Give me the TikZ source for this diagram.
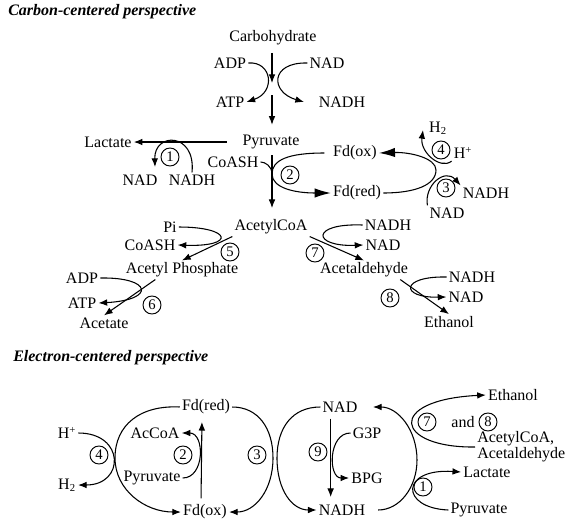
\documentclass[tikz,border=0pt]{standalone}
\usepackage{fontspec}
\setmainfont{Liberation Serif}
\usetikzlibrary{arrows.meta}

\begin{document}
\begin{tikzpicture}[x=0.75pt,y=-0.75pt,
    lbl/.style={inner sep=1.5pt,font=\fontsize{12}{13}\selectfont},
    ttl/.style={anchor=west,inner sep=0pt,font=\fontsize{12}{13}\selectfont\bfseries\itshape},
    num/.style={circle,draw,line width=0.7pt,minimum size=13.5pt,inner sep=0pt,font=\fontsize{11}{11}\selectfont},
    arr/.style={line width=0.8pt,-{Latex[length=6.5pt,width=5pt]}},
    bigarr/.style={line width=0.8pt,-{Latex[length=12pt,width=7pt]}},
    ln/.style={line width=0.8pt}]
    \useasboundingbox (0,0) rectangle (569,526);

    % carbon-centered perspective
    \node[ttl] (ttl1) at (8,12) {Carbon-centered perspective};
    \node[lbl] (carb) at (273,38) {Carbohydrate};
    \node[lbl] (adp1) at (230,63) {ADP};
    \node[lbl] (atp1) at (230,102) {ATP};
    \node[lbl] (nad0) at (327,63) {NAD};
    \node[lbl] (nadh0) at (342,102) {NADH};
    \node[lbl] (pyr1) at (271,142) {Pyruvate};
    \node[lbl] (lac1) at (108,142) {Lactate};
    \node[lbl] (nad1) at (140,180) {NAD};
    \node[lbl] (nadh1) at (192,180) {NADH};
    \node[num] (n1) at (170,157) {1};
    \node[lbl] (coash1) at (233,162) {CoASH};
    \node[num] (n2) at (290,175) {2};
    \node[lbl] (fdox1) at (355,153) {Fd(ox)};
    \node[lbl] (fdred1) at (357,193) {Fd(red)};
    \node[lbl] (h2a) at (438,128) {H\textsubscript{2}};
    \node[lbl] (hpa) at (463,153) {H\textsuperscript{+}};
    \node[num] (n4) at (441,150) {4};
    \node[num] (n3) at (446,188) {3};
    \node[lbl] (nadh3) at (486,193) {NADH};
    \node[lbl] (nad3) at (447,213) {NAD};

    \node[lbl] (acoa1) at (271,227) {AcetylCoA};
    \node[lbl] (pi) at (170,227) {Pi};
    \node[lbl] (coash5) at (150,245) {CoASH};
    \node[num] (n5) at (230,252) {5};
    \node[lbl] (acp) at (182,270) {Acetyl Phosphate};
    \node[lbl] (adp6) at (82,278) {ADP};
    \node[lbl] (atp6) at (82,303) {ATP};
    \node[num] (n6) at (152,305) {6};
    \node[lbl] (acet) at (104,323) {Acetate};
    \node[lbl] (nadh7) at (388,225) {NADH};
    \node[lbl] (nad7) at (383,245) {NAD};
    \node[num] (n7) at (315,253) {7};
    \node[lbl] (acald1) at (364,270) {Acetaldehyde};
    \node[lbl] (nadh8) at (472,277) {NADH};
    \node[lbl] (nad8) at (466,297) {NAD};
    \node[num] (n8) at (390,298) {8};
    \node[lbl] (eth1) at (449,322) {Ethanol};

    % glycolysis
    \coordinate (k1) at (272,83);
    \coordinate (k2) at (272,95);
    \draw[arr,shorten <=4pt] (carb.south -| k1) -- (k1);
    \draw[arr,shorten >=6pt] (k2) -- (k2 |- pyr1.north);
    \draw[arr] (adp1.east) .. controls (272,61) and (276,92) .. (atp1.east);
    \coordinate (t0) at (304,102);
    \draw[arr] (nad0.west) .. controls (270,62) and (270,92) .. (t0);

    % lactate branch
    \draw[arr,shorten <=10pt] (pyr1.west) -- (lac1.east);
    \coordinate (t1) at (155,167);
    \draw[arr] (nadh1.north) .. controls (196,132) and (154,132) .. (t1);

    % pyruvate to acetylCoA, ferredoxin
    \draw[arr,shorten <=3pt,shorten >=7pt] (pyr1.south -| k1) -- (acoa1.north -| k1);
    \coordinate (v2) at (272,174);
    \draw[bigarr,shorten <=5pt] (fdox1.west) .. controls (288,153) and (272,160) .. (v2)
        .. controls (272,188) and (295,193) .. (fdred1.west);
    \draw[ln] (coash1.east) .. controls (265,162) and (272,166) .. (v2);
    \coordinate (v3) at (436,170);
    \draw[bigarr] (fdred1.east) .. controls (415,193) and (436,185) .. (v3)
        .. controls (436,158) and (410,152) .. (fdox1.east);
    \coordinate (t4) at (423,130);
    \draw[arr] (hpa.south west) .. controls (440,170) and (420,152) .. (t4);
    \draw[arr] (nad3.north west) .. controls (424,185) and (445,168) .. (nadh3.north west);

    % acetate and ethanol branches
    \draw[arr] (acoa1.south west) -- (acp.north);
    \draw[arr] (pi.east) .. controls (232,227) and (236,247) .. (coash5.east);
    \draw[arr] ([xshift=-20pt]acp.south) -- (acet.north);
    \draw[arr] (adp6.east) .. controls (152,277) and (156,300) .. (atp6.east);
    \draw[arr] (acoa1.south east) -- (acald1.north);
    \draw[arr] (nadh7.west) .. controls (310,223) and (312,247) .. (nad7.west);
    \draw[arr] ([xshift=-7.5pt]acald1.south east) -- (eth1.north);
    \draw[arr] (nadh8.west) .. controls (400,276) and (400,298) .. (nad8.west);

    % electron-centered perspective
    \node[ttl] (ttl2) at (13,358) {Electron-centered perspective};
    \node[lbl] (fdred2) at (206,407) {Fd(red)};
    \node[lbl] (fdox2) at (205,512) {Fd(ox)};
    \node[lbl] (hp2) at (67,433) {H\textsuperscript{+}};
    \node[lbl] (h2b) at (67,485) {H\textsubscript{2}};
    \node[lbl] (accoa) at (155,433) {AcCoA};
    \node[lbl] (pyr2) at (152,478) {Pyruvate};
    \node[num] (m4) at (99,455) {4};
    \node[num] (m2) at (183,455) {2};
    \node[num] (m3) at (257,455) {3};
    \node[lbl] (nad2) at (340,407) {NAD};
    \node[lbl] (nadh2) at (342,510) {NADH};
    \node[lbl] (g3p) at (367,433) {G3P};
    \node[lbl] (bpg) at (367,478) {BPG};
    \node[num] (m9) at (318,452) {9};
    \node[lbl] (eth2) at (513,395) {Ethanol};
    \node[num] (m7) at (427,422) {7};
    \node[lbl] (and) at (463,422) {and};
    \node[num] (m8) at (488,422) {8};
    \node[lbl,anchor=west,align=left,font=\fontsize{12}{12}\selectfont] (acoa2) at (475,447) {AcetylCoA,\\Acetaldehyde};
    \node[lbl] (lac2) at (487,472) {Lactate};
    \node[num] (m1) at (423,487) {1};
    \node[lbl] (pyr3) at (479,510) {Pyruvate};

    % ferredoxin cycle
    \draw[arr] (fdred2.west) .. controls (140,405) and (115,425) .. (115,458)
        .. controls (115,490) and (145,512) .. (fdox2.west);
    \draw[arr] (fdred2.east) .. controls (258,407) and (273,428) .. (273,458)
        .. controls (273,490) and (255,512) .. (fdox2.east);
    \draw[arr,shorten <=3pt,shorten >=4pt] ([xshift=-3pt]fdox2.north) -- ([xshift=-3pt]fdred2.south);
    \draw[arr] (pyr2.east) .. controls (205,478) and (205,433) .. (accoa.east);
    \draw[arr] (hp2.east) .. controls (125,433) and (125,485) .. (h2b.east);

    % NAD cycle
    \draw[arr] (nad2.west) .. controls (292,407) and (277,428) .. (277,458)
        .. controls (277,490) and (292,510) .. (nadh2.west);
    \draw[arr,shorten <=3pt,shorten >=4pt] ([xshift=-7pt]nad2.south) -- ([xshift=-7pt]nad2.south |- nadh2.north);
    \draw[arr] (g3p.west) .. controls (328,433) and (328,478) .. (bpg.west);
    \draw[arr,shorten <=8pt,shorten >=10pt] (nadh2.east) .. controls (400,510) and (417,487) .. (417,460)
        .. controls (417,430) and (398,407) .. (nad2.east);
    \draw[arr] (acoa2.west) .. controls (395,448) and (385,400) .. (eth2.west);
    \draw[arr] (pyr3.west) .. controls (400,508) and (400,468) .. (lac2.west);
\end{tikzpicture}
\end{document}
